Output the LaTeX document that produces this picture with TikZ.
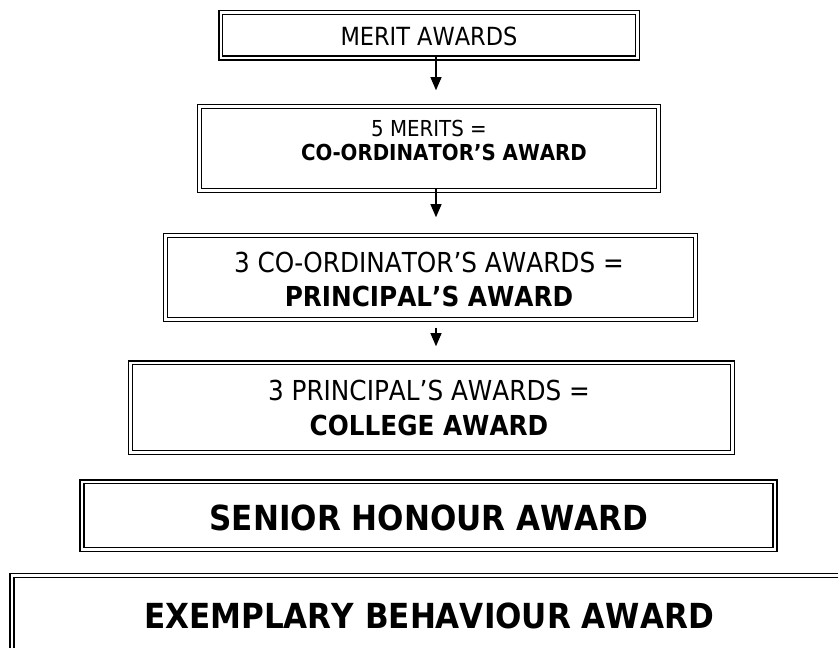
\documentclass[tikz,border=0pt]{standalone}
\usepackage{fontspec}
\setmainfont{DejaVu Sans Condensed}[BoldFont={DejaVu Sans Condensed Bold}, Kerning=Off]
\usetikzlibrary{arrows.meta}
\tikzset{
  awardbox/.style={rectangle, draw=black, line width=1.6bp, double=white, double distance=2.2bp, inner sep=0pt},
  awardtext/.style={align=center, inner sep=0pt, text=black},
  flowarrow/.style={-{Triangle[width=11bp,length=13bp]}, line width=1.1bp, black},
}
\begin{document}
\begin{tikzpicture}[x=1bp,y=-1bp]
\useasboundingbox (0,0) rectangle (838,648);
\clip (0,0) rectangle (838,648);
\fill[white] (0,0) rectangle (838,648);

% boxes
\node[awardbox, minimum width=416.8bp, minimum height=45.3bp] (b1) at (429,35.25) {};
\node[awardbox, minimum width=458.8bp, minimum height=83.8bp] (b2) at (429,148.5) {};
\node[awardbox, minimum width=529.8bp, minimum height=83.8bp] (b3) at (430.5,277.5) {};
\node[awardbox, minimum width=601.8bp, minimum height=89.8bp] (b4) at (431.5,407.5) {};
\node[awardbox, minimum width=692.8bp, minimum height=67.8bp] (b5) at (428.5,515.5) {};
\node[awardbox, minimum width=833.8bp, minimum height=80bp] (b6) at (429,615.5) {};

% texts
\node[awardtext, font=\fontsize{25bp}{30bp}\selectfont] (t1) at (429,36) {MERIT AWARDS};
\node[awardtext, font=\fontsize{22bp}{24bp}\selectfont] (t2) at (429,140) {5 MERITS =\\\hspace*{30bp}\bfseries CO-ORDINATOR’S AWARD};
\node[awardtext, font=\fontsize{27.5bp}{34bp}\selectfont] (t3) at (429,279) {3 CO-ORDINATOR’S AWARDS =\\\bfseries PRINCIPAL’S AWARD};
\node[awardtext, font=\fontsize{27.5bp}{35bp}\selectfont] (t4) at (429,407.5) {3 PRINCIPAL’S AWARDS =\\\bfseries COLLEGE AWARD};
\node[awardtext, font=\fontsize{34.5bp}{40bp}\selectfont\bfseries] (t5) at (429,518) {SENIOR HONOUR AWARD};
\node[awardtext, font=\fontsize{34.5bp}{40bp}\selectfont\bfseries] (t6) at (429,615.5) {EXEMPLARY BEHAVIOUR AWARD};

% arrows
\coordinate (ax) at (436,0);
\draw[flowarrow, shorten <=-2.6bp, shorten >=15.6bp] (b1.south -| ax) -- (b2.north -| ax);
\draw[flowarrow, shorten <=-2.6bp, shorten >=17.6bp] (b2.south -| ax) -- (b3.north -| ax);
\draw[flowarrow, shorten <=7.3bp, shorten >=15.6bp] (b3.south -| ax) -- (b4.north -| ax);
\end{tikzpicture}
\end{document}
